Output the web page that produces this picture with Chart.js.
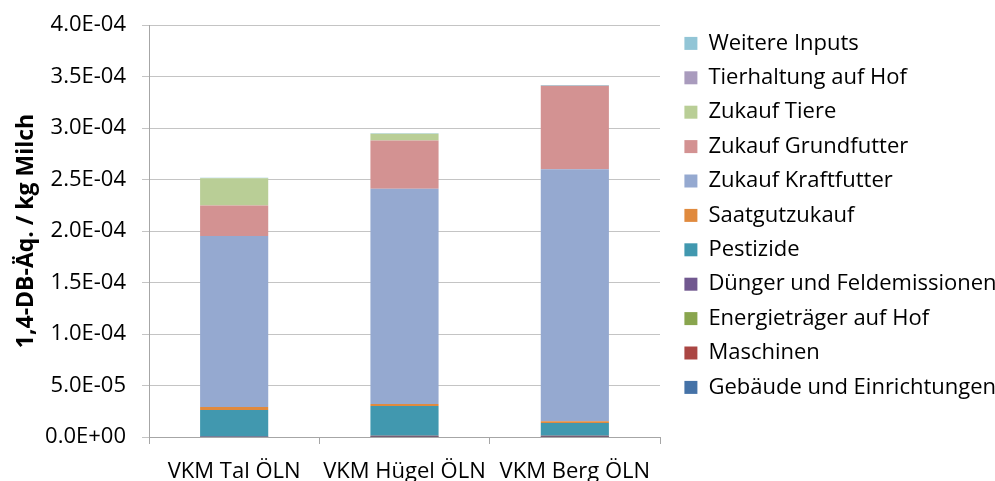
<!DOCTYPE html>
<html>
<head>
<meta charset="utf-8">
<script src="https://cdn.jsdelivr.net/npm/chart.js@4/dist/chart.umd.min.js"></script>
<style>
  html, body { margin: 0; padding: 0; background: #fff; }
  #wrap { width: 995px; height: 481px; }
</style>
</head>
<body>
<div id="wrap"><canvas id="graph-bar"></canvas></div>
<script>
const categories = ['VKM Tal ÖLN', 'VKM Hügel ÖLN', 'VKM Berg ÖLN'];

// 1,4-DB-Äq. pro kg Milch, je Herkunft
const gebaeude      = [0.1e-6, 0.1e-6, 0.1e-6];
const maschinen     = [0.3e-6, 1.0e-6, 1.0e-6];
const energie       = [0, 0, 0];
const duenger       = [0, 0, 0];
const pestizide     = [25.9e-6, 29.1e-6, 12.6e-6];
const saatgut       = [2.9e-6, 1.9e-6, 1.6e-6];
const kraftfutter   = [166.0e-6, 208.8e-6, 244.7e-6];
const grundfutter   = [29.5e-6, 46.9e-6, 80.9e-6];
const zukaufTiere   = [26.5e-6, 6.5e-6, 0];
const tierhaltung   = [0, 0, 0];
const weitereInputs = [0.5e-6, 0.5e-6, 0.8e-6];

const yTicks = { min: 0, max: 4.0e-4, step: 5.0e-5 };

function sci(v) {
    // 4.0E-04 style
    var s = Number(v).toExponential(1).toUpperCase();
    return s.replace(/E([+-])(\d)$/, 'E$10$2');
}

const series = [
    ['Gebäude und Einrichtungen', gebaeude,      '#4572a7'],
    ['Maschinen',                 maschinen,     '#aa4643'],
    ['Energieträger auf Hof',     energie,       '#89a54e'],
    ['Dünger und Feldemissionen', duenger,       '#71588f'],
    ['Pestizide',                 pestizide,     '#4198af'],
    ['Saatgutzukauf',             saatgut,       '#e08a3e'],
    ['Zukauf Kraftfutter',        kraftfutter,   '#95a9d0'],
    ['Zukauf Grundfutter',        grundfutter,   '#d39292'],
    ['Zukauf Tiere',              zukaufTiere,   '#b9ce96'],
    ['Tierhaltung auf Hof',       tierhaltung,   '#a99bbd'],
    ['Weitere Inputs',            weitereInputs, '#92c5d6']
];

const datasets = series.map(function(s) {
    return {
        label: s[0],
        data: s[1],
        backgroundColor: s[2],
        borderWidth: 0,
        barPercentage: 0.4,
        categoryPercentage: 1.0
    };
});

// fixed legend column on the right, nudged a bit off the plot
const legendBox = {
    id: 'legendBox',
    beforeLayout: function(chart) {
        var lg = chart.legend;
        if (lg && !lg._fixed) {
            var fit = lg.fit;
            lg.fit = function() { fit.call(this); this.width = 335; };
            lg._fixed = true;
        }
    },
    afterLayout: function(chart) {
        var lg = chart.legend;
        if (!lg) return;
        lg.left += 12; lg.right += 12;
        lg.top -= 5; lg.bottom -= 5;
    }
};

Chart.defaults.font.family = "'Open Sans', sans-serif";
Chart.defaults.color = '#000';

var ch_gb1;

function drawChart() {
    ch_gb1 = new Chart(document.getElementById('graph-bar'), {
        type: 'bar',
        data: { labels: categories, datasets: datasets },
        plugins: [legendBox],
        options: {
            responsive: true,
            maintainAspectRatio: false,
            animation: false,
            layout: { padding: { top: 25, left: 13, right: 0, bottom: 0 } },
            plugins: {
                tooltip: { enabled: false },
                legend: {
                    position: 'right',
                    align: 'start',
                    reverse: true,
                    labels: {
                        boxWidth: 13,
                        boxHeight: 13,
                        padding: 12.4,
                        color: '#000',
                        font: { size: 22 }
                    }
                }
            },
            scales: {
                x: {
                    stacked: true,
                    offset: true,
                    grid: {
                        offset: true,
                        drawOnChartArea: false,
                        drawTicks: true,
                        tickLength: 7,
                        color: '#a6a6a6'
                    },
                    border: { color: '#a6a6a6' },
                    ticks: { padding: 15, color: '#000', font: { size: 22 } },
                    afterFit: function(scale) { scale.height = 44; }
                },
                y: {
                    stacked: true,
                    min: yTicks.min,
                    max: yTicks.max,
                    grid: { color: '#c4c4c4', tickLength: 7 },
                    border: { color: '#a6a6a6' },
                    ticks: {
                        stepSize: yTicks.step,
                        padding: 16,
                        color: '#000',
                        font: { size: 22 },
                        callback: function(v) { return sci(v); }
                    },
                    title: {
                        display: true,
                        text: '1,4-DB-Äq. / kg Milch',
                        color: '#000',
                        font: { size: 23, weight: 'bold' },
                        padding: { top: 0, bottom: 4 }
                    },
                    afterFit: function(scale) {
                        scale.width = 136;
                        scale.paddingTop = 0;
                        scale.paddingBottom = 0;
                    }
                }
            }
        }
    });
}

Promise.all([
    document.fonts.load('22px "Open Sans"'),
    document.fonts.load('bold 23px "Open Sans"')
]).then(drawChart, drawChart);
</script>
</body>
</html>
